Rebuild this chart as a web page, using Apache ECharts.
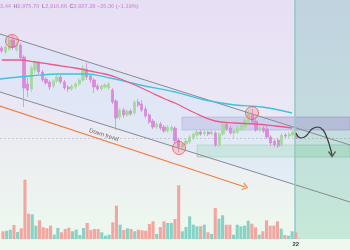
<!DOCTYPE html>
<html><head><meta charset="utf-8">
<script src="https://cdn.jsdelivr.net/npm/echarts@6/dist/echarts.min.js"></script>
<style>html,body{margin:0;padding:0;width:350px;height:250px;overflow:hidden;background:#eef8ee}#c{width:350px;height:250px}</style>
</head><body><div id="c"></div>
<script>
// ---- data ----
const slotCount = 95;                 // visible bar slots (incl. empty future area)
const tickLabelIndex = 80;
const tickLabelText = '22';
// candles: [open, close, low, high]
const candles = [
[3827,3797,3777,3847],[3787,3837,3767,3857],[3817,3907,3797,3937],[3907,3837,3807,3947],[3807,3857,3787,3887],
[3857,3727,3707,3877],[3737,3427,3237,3757],[3467,3407,3337,3527],[3417,3627,3387,3657],[3607,3677,3577,3707],
[3677,3587,3567,3697],[3587,3507,3487,3607],[3517,3477,3457,3537],[3487,3437,3407,3507],[3447,3497,3427,3517],
[3497,3537,3477,3557],[3537,3487,3467,3557],[3487,3427,3407,3507],[3437,3417,3387,3457],[3417,3447,3397,3467],
[3437,3467,3417,3487],[3467,3507,3447,3527],[3507,3627,3487,3657],[3617,3537,3507,3677],[3547,3507,3477,3567],
[3507,3437,3377,3527],[3447,3417,3397,3467],[3417,3447,3397,3467],[3437,3457,3417,3477],[3427,3467,3407,3487],
[3407,3287,3267,3427],[3297,3127,3007,3317],[3137,3207,3107,3227],[3207,3157,3127,3227],[3157,3197,3137,3217],
[3197,3167,3147,3217],[3177,3287,3157,3307],[3287,3257,3237,3317],[3267,3207,3187,3307],[3217,3147,3127,3247],
[3157,3087,3067,3177],[3097,3037,3017,3117],[3037,3067,3017,3087],[3067,3027,3007,3087],[3037,2997,2977,3057],
[2997,3037,2977,3057],[3007,3037,2987,3057],[3027,2897,2867,3047],[2907,2837,2787,2927],[2837,2867,2817,2887],
[2867,2897,2847,2917],[2887,2937,2867,2957],[2927,2967,2907,2987],[2957,2987,2937,3007],[2987,2967,2947,3007],
[2967,2987,2947,3007],[2987,2967,2947,2997],[2967,2987,2957,3007],[2977,2857,2837,2997],[2857,2967,2837,2987],
[2967,3067,2947,3087],[3067,3017,2997,3087],[3027,2977,2957,3047],[2977,2997,2927,3017],[2987,3027,2967,3047],
[3017,3057,2997,3077],[3037,3107,3017,3127],[3097,3167,3077,3207],[3167,3087,3067,3217],[3097,3007,2987,3127],
[3007,3027,2987,3047],[3027,2997,2977,3047],[3017,2937,2917,3057],[2937,2877,2847,2957],[2897,2857,2837,2917],
[2907,2847,2827,2927],[2857,2957,2837,2977],[2957,2947,2927,2977],[2947,2967,2927,2987],[2957,2987,2937,3007],
[2962.68,2927.38,2916.66,2975.70]
];
const volumes = [7.7,8.3,9.3,14,7,10.7,59.3,25.3,24.7,13.3,18.7,11.7,10.7,13.3,4.3,11,6.7,10,11.3,7.7,
9.3,4,11,16,9,10,10,6.7,3.3,4.3,16.7,33.3,14.3,9,10.7,10,7.7,9.3,8.7,8.3,15,17.7,5,12,17.7,16,16,20,53.7,7.7,
12,22.7,14.3,12.7,12.7,14.3,6.7,5,31,20.3,23.7,14.3,14.3,4.3,14.3,12.7,13.3,18.3,15.3,11.7,4.3,7.7,18.7,13.3,13.3,
17.7,10.3,4,3.3,7.7,6.7,1];
// moving averages: [slot position, price]
const maPink = [[0,3707],[4.93,3707],[9,3687],[14.43,3657],[19.86,3627],[23.93,3597],[28,3567],[31.53,3527],
[36.14,3457],[40.76,3377],[44.29,3317],[47,3277],[52.43,3177],[57.86,3097],[63.29,3077],[68.71,3067],[74.14,3047],[78.76,3027]];
const maCyan = [[-0.5,3517],[7.64,3547],[15.79,3567],[22.57,3567],[29.36,3527],[37.5,3457],[47,3387],[55.14,3307],
[63.29,3257],[70.61,3237],[78.76,3177]];
const channelUpper = [[-0.5,3967],[94.5,2857]];
const channelLower = [[-0.5,3387],[94.5,2287]];
const trendLine = [[-0.5,3247],[66.0,2437]];
const trendLabel = [27.7,2957];
const trendText = 'Down trend';
const projection = [[79.84,2977],[81.2,2927],[82.56,2947],[84.19,3017],[85.82,3037],[87.17,3007],[88.26,2927],[89.07,2837],[89.62,2757]];
const resistanceZone = [[48.9,3137],[94.5,3007]];
const supportZone = [[53.0,2857],[94.5,2737]];
const touchPoints = [[2.76,3897],[67.9,3177],[48.1,2827]];
const forecastStart = 79.57;
const lastPrice = 2927.38;
const headerParts = [['v','3.44 '],['k','H'],['v','2,975.70 '],['k','L'],['v','2,916.66 '],['k','C'],['v','2,927.38 '],['v','−35.30 (−1.19%)']];
const priceMin = 1917, priceMax = 4307, volMax = 89;

// ---- chart ----
const labels = Array.from({length: slotCount}, (_, i) => i === tickLabelIndex ? tickLabelText : '');
const upFill = '#a3d99e', downFill = '#d98ad9';
const volUp = '#86d3c6', volDown = '#f3a5a0';
const volData = volumes.map((v, i) => {
  const c = candles[i];
  if (!c) return { value: v, itemStyle: { color: volDown, opacity: 0.35 } };
  return { value: v, itemStyle: { color: c[1] >= c[0] ? volUp : volDown } };
});
function lerp(line, x) {
  const [a, b] = line; return a[1] + (b[1] - a[1]) * (x - a[0]) / (b[0] - a[0]);
}
const hidden = { show: false };
const font = 'Liberation Sans, Arial, sans-serif';
const chart = echarts.init(document.getElementById('c'), null, { renderer: 'canvas' });
chart.setOption({
  animation: false,
  backgroundColor: new echarts.graphic.LinearGradient(0, 0, 0, 1, [
    { offset: 0, color: '#e7dff4' }, { offset: 0.45, color: '#ebe8f4' },
    { offset: 0.8, color: '#edf4f0' }, { offset: 1, color: '#eef9ee' }]),
  title: {
    left: 0, top: 3, padding: 0,
    text: headerParts.map(p => '{' + p[0] + '|' + p[1] + '}').join(''),
    textStyle: { rich: {
      v: { color: '#cf9ddc', fontSize: 5.6, fontFamily: font },
      k: { color: '#9a88a8', fontSize: 5.6, fontFamily: font, padding: [0, 0, 0, 1] } } }
  },
  grid: [
    { left: 0, right: 0, top: 0, bottom: 11 },
    { left: 0, right: 0, top: 150, bottom: 11 }
  ],
  xAxis: [
    { type: 'category', gridIndex: 0, data: labels, axisLine: hidden, axisTick: hidden, axisLabel: hidden, splitLine: hidden },
    { type: 'category', gridIndex: 1, data: labels, axisLine: hidden, axisTick: hidden, splitLine: hidden,
      axisLabel: { show: true, interval: 0, margin: 2, fontSize: 6, color: '#444', fontWeight: 'bold', fontFamily: font } },
    { type: 'value', gridIndex: 0, min: -0.5, max: slotCount - 0.5, show: false }
  ],
  yAxis: [
    { type: 'value', gridIndex: 0, min: priceMin, max: priceMax, show: false, splitLine: hidden },
    { type: 'value', gridIndex: 1, min: 0, max: volMax, show: false, splitLine: hidden }
  ],
  series: [
    { // channel fill
      type: 'custom', xAxisIndex: 2, yAxisIndex: 0, z: 1, silent: true,
      data: [[0, 3000]],
      renderItem: (params, api) => {
        const x0 = channelUpper[0][0], x1 = forecastStart;
        const pts = [api.coord([x0, lerp(channelUpper, x0)]), api.coord([x1, lerp(channelUpper, x1)]),
                     api.coord([x1, lerp(channelLower, x1)]), api.coord([x0, lerp(channelLower, x0)])];
        return { type: 'polygon', shape: { points: pts }, style: { fill: 'rgba(205,230,250,0.35)' } };
      }
    },
    { // zones, forecast shade, reference lines
      type: 'line', xAxisIndex: 2, yAxisIndex: 0, data: [], z: 2,
      markArea: { silent: true, data: [
        [{ xAxis: forecastStart, itemStyle: { color: new echarts.graphic.LinearGradient(0,0,0,1,[{offset:0,color:'rgba(110,185,180,0.32)'},{offset:1,color:'rgba(110,200,170,0.32)'}]) } }, { xAxis: slotCount - 0.5 }],
        [{ coord: resistanceZone[0], itemStyle: { color: 'rgba(150,128,200,0.33)', borderColor: 'rgba(150,128,200,0.6)', borderWidth: 0.8 } }, { coord: resistanceZone[1] }],
        [{ coord: supportZone[0], itemStyle: { color: 'rgba(120,210,150,0.3)', borderColor: 'rgba(110,190,140,0.6)', borderWidth: 0.8 } }, { coord: supportZone[1] }]
      ] },
      markLine: { silent: true, symbol: 'none', label: hidden, data: [
        { xAxis: forecastStart, lineStyle: { color: '#8fcac4', width: 1.5, type: 'solid' } },
        { yAxis: lastPrice, lineStyle: { color: 'rgba(130,130,150,0.4)', width: 0.8, type: [2, 2] } }
      ] }
    },
    { type: 'bar', xAxisIndex: 1, yAxisIndex: 1, data: volData, barWidth: 3.1, z: 3 },
    { type: 'line', xAxisIndex: 2, yAxisIndex: 0, data: channelUpper, symbol: 'none', lineStyle: { color: '#878a92', width: 1 }, z: 4 },
    { type: 'line', xAxisIndex: 2, yAxisIndex: 0, data: channelLower, symbol: 'none', lineStyle: { color: '#878a92', width: 1 }, z: 4 },
    { type: 'line', xAxisIndex: 2, yAxisIndex: 0, data: trendLine, symbol: 'none', lineStyle: { color: '#f08040', width: 1.3 }, z: 4 },
    { type: 'scatter', xAxisIndex: 2, yAxisIndex: 0, data: [trendLine[1]], symbol: 'path://M0,0L5,6L10,0', symbolSize: [7, 5], symbolRotate: 72,
      itemStyle: { color: 'none', borderColor: '#f08040', borderWidth: 1.2 }, z: 5 },
    { type: 'scatter', xAxisIndex: 2, yAxisIndex: 0, data: [trendLabel], symbolSize: 1, itemStyle: { color: 'rgba(0,0,0,0)' }, z: 6,
      label: { show: true, position: 'inside', formatter: trendText, rotate: -18, fontSize: 6, color: '#444', fontFamily: font } },
    { type: 'candlestick', xAxisIndex: 0, yAxisIndex: 0, data: candles, barWidth: 2.8, z: 5,
      itemStyle: { color: upFill, color0: downFill, borderColor: upFill, borderColor0: downFill, borderWidth: 0.8 } },
    { type: 'line', xAxisIndex: 2, yAxisIndex: 0, data: maCyan, smooth: 0.4, symbol: 'none', lineStyle: { color: '#3fc3dc', width: 1.3 }, z: 6 },
    { type: 'line', xAxisIndex: 2, yAxisIndex: 0, data: maPink, smooth: 0.4, symbol: 'none', lineStyle: { color: '#eb5a88', width: 1.3 }, z: 6 },
    { type: 'line', xAxisIndex: 2, yAxisIndex: 0, data: projection, smooth: 0.5, symbol: 'none', lineStyle: { color: '#3a3a3a', width: 1.2 }, z: 7 },
    { type: 'scatter', xAxisIndex: 2, yAxisIndex: 0, data: [projection[projection.length - 1]], symbol: 'path://M0,0L5,6L10,0', symbolSize: [7, 5],
      symbolOffset: [0, -1], itemStyle: { color: 'none', borderColor: '#3a3a3a', borderWidth: 1.2 }, z: 7 },
    { type: 'scatter', xAxisIndex: 2, yAxisIndex: 0, data: touchPoints, symbolSize: 13, z: 8,
      itemStyle: { color: 'rgba(240,110,110,0.3)', borderColor: '#e85a5a', borderWidth: 1 } }
  ]
});
</script></body></html>
